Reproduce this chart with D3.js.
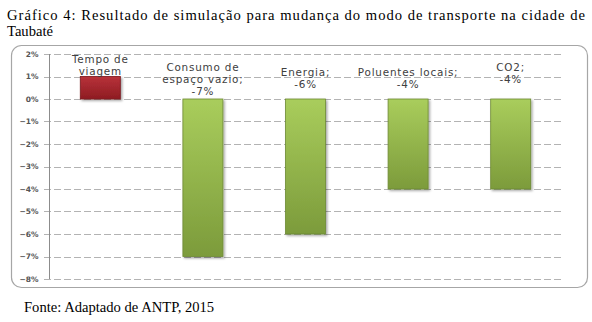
<!DOCTYPE html>
<html>
<head>
<meta charset="utf-8">
<script src="https://cdn.jsdelivr.net/npm/d3@7"></script>
<style>
  body { margin: 0; background: #fff; }
  svg { display: block; }
</style>
</head>
<body>
<div id="chart"></div>
<script>
// data
var categories = ["Tempo de viagem", "Consumo de espaço vazio", "Energia", "Poluentes locais", "CO2"];
var values = [0.01, -0.07, -0.06, -0.04, -0.04];
var labelLines = [
  ["Tempo de", "viagem"],
  ["Consumo de", "espaço vazio;", "-7%"],
  ["Energia;", "-6%"],
  ["Poluentes locais;", "-4%"],
  ["CO2;", "-4%"]
];
var yTicks = [0.02, 0.01, 0, -0.01, -0.02, -0.03, -0.04, -0.05, -0.06, -0.07, -0.08];

var W = 592, H = 322;
var serif = "'Liberation Serif', 'Times New Roman', serif";
var svg = d3.select("#chart").append("svg").attr("width", W).attr("height", H);

var defs = svg.append("defs");
var gRed = defs.append("linearGradient").attr("id", "red").attr("x1", 0).attr("y1", 0).attr("x2", 0).attr("y2", 1);
gRed.append("stop").attr("offset", "0%").attr("stop-color", "#b8323a");
gRed.append("stop").attr("offset", "100%").attr("stop-color", "#8e1c22");
var gGreen = defs.append("linearGradient").attr("id", "green").attr("x1", 0).attr("y1", 0).attr("x2", 0).attr("y2", 1);
gGreen.append("stop").attr("offset", "0%").attr("stop-color", "#a9cd5c");
gGreen.append("stop").attr("offset", "100%").attr("stop-color", "#7c9b3b");
var sh = defs.append("filter").attr("id", "shadow").attr("x", "-20%").attr("y", "-20%").attr("width", "150%").attr("height", "150%");
sh.append("feDropShadow").attr("dx", 1.5).attr("dy", 1.5).attr("stdDeviation", 1.2).attr("flood-color", "#000").attr("flood-opacity", 0.35);

// title (justified first line)
svg.append("text")
  .attr("x", 7).attr("y", 20)
  .attr("textLength", 578).attr("lengthAdjust", "spacing")
  .style("font-family", serif)
  .style("font-size", "14.6px")
  .text("Gráfico 4: Resultado de simulação para mudança do modo de transporte na cidade de");
svg.append("text")
  .attr("x", 7).attr("y", 36)
  .style("font-family", serif)
  .style("font-size", "14.6px")
  .text("Taubaté");

// chart frame
svg.append("rect")
  .attr("x", 11.5).attr("y", 45.5).attr("width", 576).attr("height", 242)
  .attr("rx", 10).attr("ry", 10)
  .attr("fill", "#fff").attr("stroke", "#a6a6a6").attr("stroke-width", 1.2);

var plotLeft = 49, plotRight = 562;

var y = d3.scaleLinear().domain([-0.08, 0.02]).range([279, 54]);
var x = d3.scaleBand().domain(categories).range([plotLeft, plotRight]).paddingInner(0.61).paddingOuter(0.305);

// gridlines
svg.append("g").selectAll("line")
  .data(yTicks)
  .join("line")
  .attr("x1", 44).attr("x2", plotRight)
  .attr("y1", d => Math.round(y(d)) + 0.5).attr("y2", d => Math.round(y(d)) + 0.5)
  .attr("stroke", "#b3b3b3").attr("stroke-width", 1)
  .attr("stroke-dasharray", "7,3");

// y axis
var yAxis = svg.append("g")
  .attr("transform", "translate(" + (plotLeft + 0.5) + ",0)")
  .call(d3.axisLeft(y).tickValues(yTicks).tickFormat(d3.format(".0%")).tickSize(0).tickPadding(11));
yAxis.select(".domain").attr("stroke", "#8c8c8c").attr("d", "M0," + y(0.02) + "V" + y(-0.08));
yAxis.selectAll("text")
  .style("font-family", "'DejaVu Sans', sans-serif")
  .style("font-size", "7.5px")
  .style("font-weight", "bold")
  .attr("fill", "#555");

// bars
svg.append("g").selectAll("rect")
  .data(categories)
  .join("rect")
  .attr("x", d => x(d))
  .attr("width", x.bandwidth())
  .attr("y", (d, i) => y(Math.max(0, values[i])))
  .attr("height", (d, i) => Math.abs(y(values[i]) - y(0)))
  .attr("fill", (d, i) => values[i] > 0 ? "url(#red)" : "url(#green)")
  .attr("stroke", (d, i) => values[i] > 0 ? "#7a1a1f" : "#6d8a33")
  .attr("stroke-width", 0.8)
  .attr("filter", "url(#shadow)");

// data labels
var labelTop = [59, 67, 72, 72, 67];
var labels = svg.append("g").selectAll("text")
  .data(categories)
  .join("text")
  .attr("text-anchor", "middle")
  .attr("x", d => x(d) + x.bandwidth() / 2)
  .attr("y", (d, i) => labelTop[i] + 3.5)
  .style("font-family", "'DejaVu Sans', sans-serif")
  .style("font-size", "10.4px")
  .style("letter-spacing", "0.8px")
  .attr("fill", "#404040");
labels.selectAll("tspan")
  .data((d, i) => labelLines[i])
  .join("tspan")
  .attr("x", function() { return this.parentNode.getAttribute("x"); })
  .attr("dy", (d, j) => j === 0 ? 0 : 12)
  .text(d => d);

// source
svg.append("text")
  .attr("x", 24).attr("y", 312)
  .style("font-family", serif)
  .style("font-size", "14.6px")
  .text("Fonte: Adaptado de ANTP, 2015");
</script>
</body>
</html>
